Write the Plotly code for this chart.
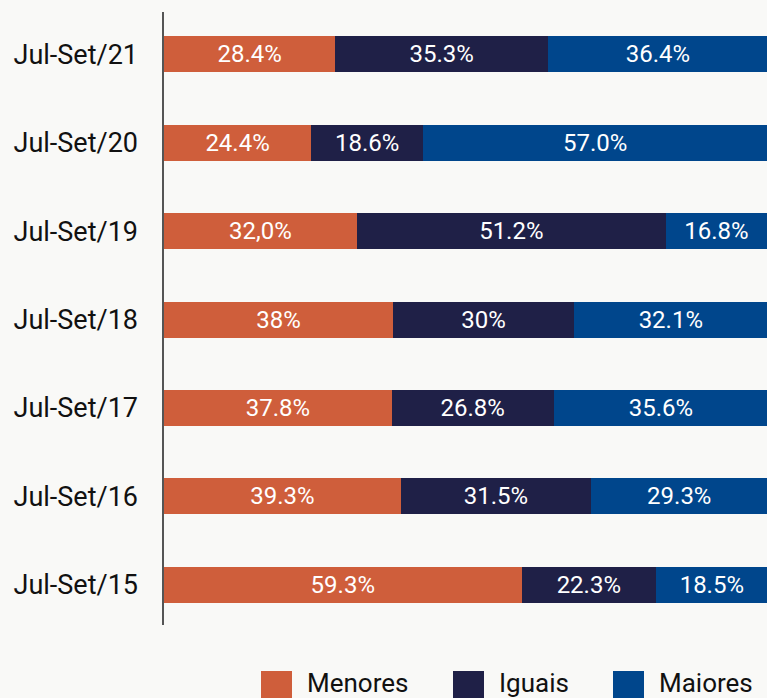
import plotly.graph_objects as go

# categories, bottom to top
periods = ["Jul-Set/15", "Jul-Set/16", "Jul-Set/17", "Jul-Set/18",
           "Jul-Set/19", "Jul-Set/20", "Jul-Set/21"]

menores = [59.3, 39.3, 37.8, 38.0, 32.0, 24.4, 28.4]
iguais = [22.3, 31.5, 26.8, 30.0, 51.2, 18.6, 35.3]
maiores = [18.5, 29.3, 35.6, 32.1, 16.8, 57.0, 36.4]

menores_txt = ["59.3%", "39.3%", "37.8%", "38%", "32,0%", "24.4%", "28.4%"]
iguais_txt = ["22.3%", "31.5%", "26.8%", "30%", "51.2%", "18.6%", "35.3%"]
maiores_txt = ["18.5%", "29.3%", "35.6%", "32.1%", "16.8%", "57.0%", "36.4%"]

series_names = ["Menores", "Iguais", "Maiores"]
colors = ["#cf5e3b", "#1f2047", "#00468c"]

W, H = 767, 698
L, R, T, B = 164, 0, 10, 69
pw, ph = W - L - R, H - T - B


def px_x(x):
    return (x - L) / pw


def px_y(y):
    return (H - B - y) / ph


fig = go.Figure()
for name, vals, txt, col in zip(series_names, [menores, iguais, maiores],
                                [menores_txt, iguais_txt, maiores_txt], colors):
    fig.add_trace(go.Bar(
        y=periods, x=vals, name=name, orientation="h",
        marker=dict(color=col, line=dict(width=0)),
        text=txt, textposition="inside", insidetextanchor="middle",
        insidetextfont=dict(color="white", size=24, family="Roboto"),
        constraintext="none", showlegend=False,
    ))

# vertical axis line, a little shorter than the plot area
shapes = [dict(type="line", xref="paper", yref="paper", x0=px_x(163), x1=px_x(163),
               y0=px_y(625), y1=px_y(12), line=dict(color="#555555", width=2))]

# legend drawn by hand so the swatches can be large
leg_sq_x = [261, 453, 613]
annotations = []
for name, col, sx in zip(series_names, colors, leg_sq_x):
    shapes.append(dict(type="rect", xref="paper", yref="paper",
                       x0=px_x(sx), x1=px_x(sx + 31), y0=px_y(702), y1=px_y(671),
                       fillcolor=col, line=dict(width=0)))
    annotations.append(dict(text=name, xref="paper", yref="paper",
                            x=px_x(sx + 44), y=px_y(683), xanchor="left", yanchor="middle",
                            showarrow=False, font=dict(size=26, color="#111111", family="Roboto")))

fig.update_layout(
    width=W, height=H,
    margin=dict(l=L, r=R, t=T, b=B),
    barmode="stack",
    bargap=0.593,
    paper_bgcolor="#f9f9f7",
    plot_bgcolor="#f9f9f7",
    font=dict(family="Roboto", color="#111111"),
    shapes=shapes,
    annotations=annotations,
)
fig.update_xaxes(range=[0, 100], visible=False, showgrid=False, zeroline=False)
fig.update_yaxes(
    showline=False, showgrid=False, zeroline=False,
    ticks="", ticklabelstandoff=25,
    tickfont=dict(size=27, color="#111111", family="Roboto"),
    categoryorder="array", categoryarray=periods,
)

# page margin off so the chart fills the window
fig.write_html("out.html", config={"displayModeBar": False},
               post_script="document.body.style.margin='0';document.body.style.background='#f9f9f7';")
